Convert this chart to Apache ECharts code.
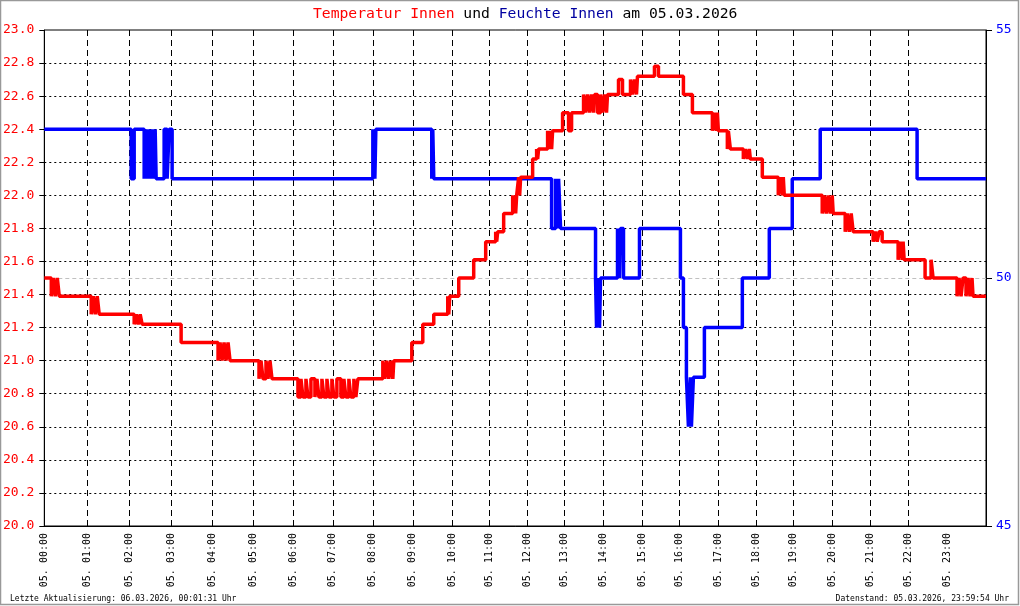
<!DOCTYPE html>
<html>
<head>
<meta charset="utf-8">
<script src="https://cdn.jsdelivr.net/npm/echarts@6/dist/echarts.min.js"></script>
<style>
html,body{margin:0;padding:0;background:#fff;}
#chart{width:1020px;height:606px;}
</style>
</head>
<body>
<div id="chart"></div>
<script>
// ---- data ----
// x = record number of the day's log (records are not evenly spaced in time)
var hourRecords = [0, 43, 85, 127, 168, 209, 249, 289, 329, 369, 409, 446, 484, 521, 560, 599, 636, 675, 713, 750, 789, 827, 865, 904];
var hourLabels = ['05. 00:00','05. 01:00','05. 02:00','05. 03:00','05. 04:00','05. 05:00','05. 06:00','05. 07:00','05. 08:00','05. 09:00','05. 10:00','05. 11:00','05. 12:00','05. 13:00','05. 14:00','05. 15:00','05. 16:00','05. 17:00','05. 18:00','05. 19:00','05. 20:00','05. 21:00','05. 22:00','05. 23:00'];
var lastRecord = 943;

// Temperatur Innen [record, °C]
var temperaturInnen = [
 [0,21.5],[7,21.39],[9,21.5],[11,21.39],[13,21.5],[15,21.39],
 [47,21.28],[49,21.39],[51,21.28],[53,21.39],[55,21.28],
 [90,21.22],[92,21.28],[94,21.22],[96,21.28],[98,21.22],
 [137,21.11],
 [174,21.0],[176,21.11],[178,21.0],[180,21.11],[182,21.0],[184,21.11],[186,21.0],
 [215,20.89],[217,21.0],[219,20.89],[222,21.0],[224,20.89],[226,21.0],[228,20.89],
 [254,20.78],[257,20.89],[259,20.78],[262,20.89],[264,20.78],[267,20.89],[271,20.78],[273,20.89],[275,20.78],[278,20.89],[280,20.78],[283,20.89],[285,20.78],[288,20.89],[290,20.78],[293,20.89],[297,20.78],[300,20.89],[302,20.78],[305,20.89],[307,20.78],[310,20.89],[312,20.78],[314,20.89],
 [339,21.0],[341,20.89],[343,21.0],[345,20.89],[347,21.0],[349,20.89],[350,21.0],
 [368,21.11],[379,21.22],[390,21.28],
 [404,21.39],[405,21.28],[406,21.39],
 [415,21.5],[430,21.61],[442,21.72],
 [452,21.78],[453,21.72],[454,21.78],
 [460,21.89],
 [469,22.0],[470,21.89],[471,22.0],[472,21.89],[473,22.0],
 [475,22.11],[476,22.0],[477,22.11],
 [489,22.22],
 [493,22.28],[494,22.22],[495,22.28],
 [504,22.39],[505,22.28],[507,22.39],[508,22.28],[509,22.39],
 [519,22.5],[525,22.39],[528,22.5],
 [540,22.61],[542,22.5],[544,22.61],[546,22.5],[548,22.61],[550,22.5],[551,22.61],
 [554,22.5],
 [557,22.61],[559,22.5],[561,22.61],[563,22.5],[564,22.61],
 [575,22.7],[579,22.61],
 [587,22.7],[589,22.61],[591,22.7],[593,22.61],[594,22.72],
 [611,22.78],[615,22.72],
 [640,22.61],[649,22.5],
 [669,22.39],[671,22.5],[673,22.39],[674,22.5],[675,22.39],
 [684,22.28],[685,22.39],[687,22.28],
 [700,22.22],[702,22.28],[704,22.22],[706,22.28],[707,22.22],
 [719,22.11],
 [735,22.0],[737,22.11],[739,22.0],[740,22.11],[741,22.0],
 [779,21.89],[781,22.0],[783,21.89],[785,22.0],[787,21.89],[789,22.0],[790,21.89],
 [802,21.78],[804,21.89],[806,21.78],[808,21.89],[810,21.78],
 [830,21.72],[832,21.78],[834,21.72],[836,21.78],[839,21.72],
 [855,21.61],[857,21.72],[859,21.61],[860,21.72],[861,21.61],
 [882,21.5],[888,21.61],[890,21.5],
 [914,21.39],[916,21.5],[918,21.39],[920,21.5],[923,21.39],[925,21.5],[927,21.39],[929,21.5],[930,21.39],
 [943,21.39]
];

// Feuchte Innen [record, %]
var feuchteInnen = [
 [0,53],[87,52],[90,53],
 [100,52],[102,53],[103,52],[105,53],[106,52],[108,53],[109,52],[111,53],[112,52],
 [120,53],[123,52],[125,53],[128,52],
 [329,53],[331,52],[332,53],
 [388,52],[389,53],[390,52],
 [508,51],[512,52],[514,51],[515,52],[517,51],
 [552,50],[553,49],[555,50],[556,49],[557,50],
 [574,51],[576,50],[577,51],[580,50],
 [596,51],
 [637,50],[640,49],[643,48],[645,47],[647,48],[648,47],[650,48],[661,49],
 [699,50],[726,51],[749,52],[777,53],[874,52],
 [943,52]
];

var tempAxisTicks = {min: 20, max: 23, step: 0.2};
var humAxisTicks = {min: 45, max: 55, step: 5};

// ---- chart ----
var chart = echarts.init(document.getElementById('chart'), null, {renderer: 'canvas'});
var mono = 'DejaVu Sans Mono';
var option = {
  animation: false,
  backgroundColor: '#fff',
  grid: {left: 43, right: 34, top: 30, bottom: 80, show: true, borderColor: '#000', borderWidth: 1, backgroundColor: '#fff'},
  xAxis: {
    type: 'value', min: 0, max: lastRecord,
    axisLine: {show: true, lineStyle: {color: '#000', width: 1}},
    axisTick: {show: false, customValues: hourRecords},
    axisLabel: {
      customValues: hourRecords, rotate: 90, margin: 7,
      fontFamily: mono, fontSize: 10, color: '#000',
      formatter: function (v) { var i = hourRecords.indexOf(v); return i >= 0 ? hourLabels[i] : ''; }
    },
    splitLine: {show: true, showMinLine: false, showMaxLine: false, lineStyle: {color: '#000', width: 1, type: [6, 4]}}
  },
  yAxis: [{
    type: 'value', min: tempAxisTicks.min, max: tempAxisTicks.max, interval: tempAxisTicks.step, position: 'left',
    axisLine: {show: true, lineStyle: {color: '#000'}},
    axisTick: {show: true, length: 5, lineStyle: {color: '#000'}},
    axisLabel: {margin: 10, fontFamily: mono, fontSize: 13, color: '#ff0000', formatter: function (v) { return v.toFixed(1); }},
    splitLine: {show: true, showMinLine: false, showMaxLine: false, lineStyle: {color: '#000', width: 1, type: [2, 3]}}
  }, {
    type: 'value', min: humAxisTicks.min, max: humAxisTicks.max, interval: humAxisTicks.step, position: 'right',
    axisLine: {show: true, lineStyle: {color: '#000'}},
    axisTick: {show: true, length: 6, lineStyle: {color: '#000'}},
    axisLabel: {margin: 10, fontFamily: mono, fontSize: 13, color: '#0000ff'},
    splitLine: {show: true, showMinLine: false, showMaxLine: false, lineStyle: {color: '#c0c0c0', width: 1, type: [4, 3]}}
  }],
  series: [{
    name: 'Feuchte Innen', type: 'line', yAxisIndex: 1, step: 'end', showSymbol: false, symbol: 'none',
    data: feuchteInnen, lineStyle: {color: '#0000ff', width: 3.5}, itemStyle: {color: '#0000ff'}, z: 3
  }, {
    name: 'Temperatur Innen', type: 'line', yAxisIndex: 0, step: 'end', showSymbol: false, symbol: 'none',
    data: temperaturInnen, lineStyle: {color: '#ff0000', width: 3.5}, itemStyle: {color: '#ff0000'}, z: 4
  }],
  graphic: [{
    type: 'rect', silent: true, z: 100,
    shape: {x: 0.5, y: 0.5, width: 1018, height: 604},
    style: {fill: 'none', stroke: '#999', lineWidth: 1.5}
  }, {
    type: 'text', x: 313, y: 14, silent: true,
    style: {
      text: '{r|Temperatur Innen} {k|und} {b|Feuchte Innen} {k|am 05.03.2026}',
      verticalAlign: 'middle', align: 'left',
      font: '14.7px "DejaVu Sans Mono"',
      rich: {
        r: {fill: '#ff0000', font: '14.7px "DejaVu Sans Mono"'},
        k: {fill: '#000000', font: '14.7px "DejaVu Sans Mono"'},
        b: {fill: '#0000a0', font: '14.7px "DejaVu Sans Mono"'}
      }
    }
  }, {
    type: 'text', x: 10, y: 599, silent: true,
    style: {text: 'Letzte Aktualisierung: 06.03.2026, 00:01:31 Uhr', fill: '#000', font: '8px "DejaVu Sans Mono"', align: 'left', verticalAlign: 'middle'}
  }, {
    type: 'text', x: 1009, y: 599, silent: true,
    style: {text: 'Datenstand: 05.03.2026, 23:59:54 Uhr', fill: '#000', font: '8px "DejaVu Sans Mono"', align: 'right', verticalAlign: 'middle'}
  }]
};
chart.setOption(option);
</script>
</body>
</html>
